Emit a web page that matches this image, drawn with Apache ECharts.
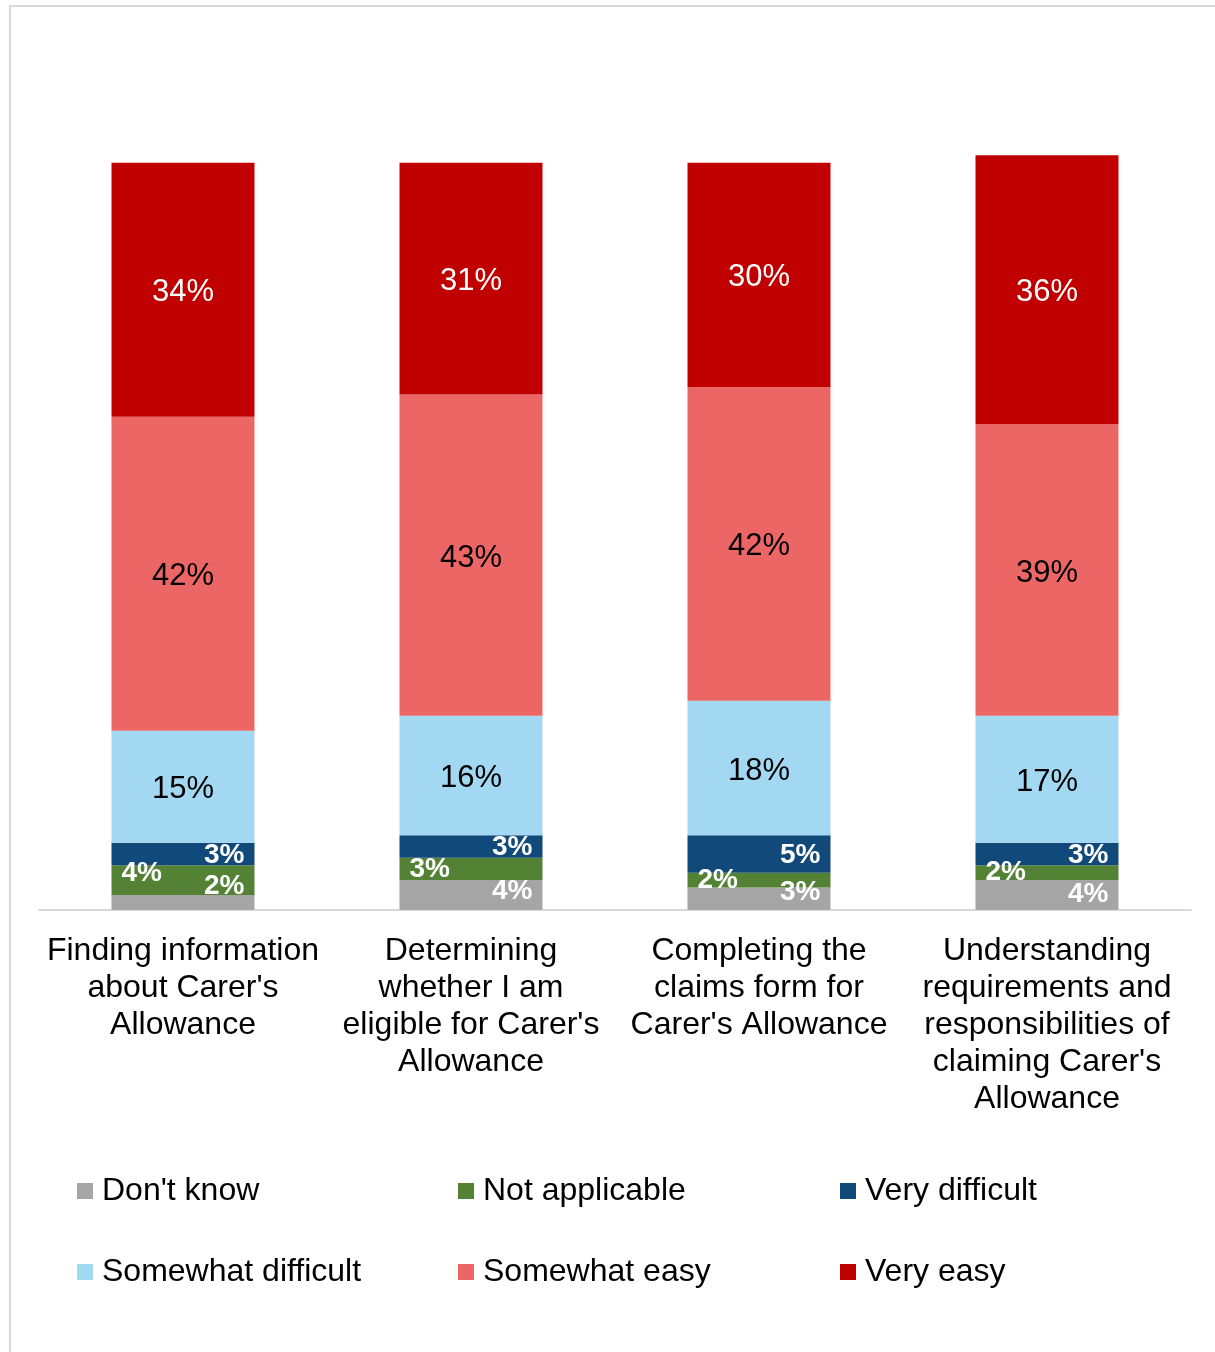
<!DOCTYPE html>
<html>
<head>
<meta charset="utf-8">
<title>Ease of claiming Carer's Allowance</title>
<script src="https://cdn.jsdelivr.net/npm/echarts@6/dist/echarts.min.js"></script>
<style>
  html, body { margin: 0; padding: 0; background: #ffffff; }
  #chart { width: 1215px; height: 1352px; }
</style>
</head>
<body>
<div id="chart"></div>
<script>
// Survey tasks (x categories)
const categories = [
  "Finding information\nabout Carer's\nAllowance",
  "Determining\nwhether I am\neligible for Carer's\nAllowance",
  "Completing the\nclaims form for\nCarer's Allowance",
  "Understanding\nrequirements and\nresponsibilities of\nclaiming Carer's\nAllowance"
];

// Response shares (%), stacked bottom to top
const dontKnow          = [2, 4, 3, 4];
const notApplicable     = [4, 3, 2, 2];
const veryDifficult     = [3, 3, 5, 3];
const somewhatDifficult = [15, 16, 18, 17];
const somewhatEasy      = [42, 43, 42, 39];
const veryEasy          = [34, 31, 30, 36];

// Vertical nudges for the small in-bar labels so they stay readable
const dontKnowLabelNudge      = [-16, -4, -7, -1];
const notApplicableLabelNudge = [-7, 0, 0, 0];

const FONT = "'Liberation Sans', Arial, sans-serif";

function bigLabel(color) {
  return {
    show: true,
    position: 'inside',
    offset: [0, 3],
    formatter: p => p.value + '%',
    color: color,
    fontFamily: FONT,
    fontSize: 31
  };
}

function smallLabel(pos) {
  return {
    show: true,
    position: pos,
    distance: 10,
    offset: [0, 1],
    formatter: p => p.value + '%',
    color: '#ffffff',
    fontFamily: FONT,
    fontWeight: 'bold',
    fontSize: 28
  };
}

function withNudge(values, nudges, pos) {
  return values.map((v, i) => ({
    value: v,
    label: Object.assign(smallLabel(pos), { offset: [0, nudges[i]] })
  }));
}

const seriesDefs = [
  { name: "Don't know",         data: withNudge(dontKnow, dontKnowLabelNudge, 'insideRight'), color: '#a5a5a5', label: smallLabel('insideRight') },
  { name: 'Not applicable',     data: withNudge(notApplicable, notApplicableLabelNudge, 'insideLeft'), color: '#548235', label: smallLabel('insideLeft') },
  { name: 'Very difficult',     data: veryDifficult,     color: '#12497b', label: smallLabel('insideRight') },
  { name: 'Somewhat difficult', data: somewhatDifficult, color: '#a3d8f3', label: bigLabel('#000000') },
  { name: 'Somewhat easy',      data: somewhatEasy,      color: '#ec6666', label: bigLabel('#000000') },
  { name: 'Very easy',          data: veryEasy,          color: '#c00000', label: bigLabel('#ffffff') }
];

const series = seriesDefs.map(s => ({
  name: s.name,
  type: 'bar',
  stack: 'total',
  barWidth: 143,
  data: s.data,
  itemStyle: { color: s.color },
  label: s.label,
  emphasis: { disabled: true }
}));

// Legend laid out as a 3 x 2 grid
const legendCols = [77, 458, 840];
const legendRows = [1175, 1256];
const legends = seriesDefs.map((s, i) => ({
  data: [s.name],
  left: legendCols[i % 3],
  top: legendRows[Math.floor(i / 3)],
  padding: 0,
  icon: 'rect',
  itemWidth: 16,
  itemHeight: 16,
  selectedMode: false,
  textStyle: {
    fontFamily: FONT,
    fontSize: 32,
    color: '#000000',
    padding: [0, 0, 0, 4]
  }
}));

const chart = echarts.init(document.getElementById('chart'), null, { renderer: 'canvas' });
chart.setOption({
  animation: false,
  backgroundColor: '#ffffff',
  graphic: [{
    type: 'rect',
    shape: { x: 10, y: 6, width: 1400, height: 1500 },
    style: { fill: 'none', stroke: '#d9d9d9', lineWidth: 2 },
    silent: true
  }],
  grid: { left: 39, right: 24, top: 88, bottom: 442 },
  legend: legends,
  xAxis: {
    type: 'category',
    data: categories,
    axisLine: { show: true, lineStyle: { color: '#d9d9d9', width: 2 } },
    axisTick: { show: false },
    axisLabel: {
      interval: 0,
      margin: 23,
      color: '#000000',
      fontFamily: FONT,
      fontSize: 32,
      lineHeight: 37
    }
  },
  yAxis: {
    type: 'value',
    min: 0,
    max: 110,
    show: false,
    splitLine: { show: false }
  },
  series: series
});
</script>
</body>
</html>
